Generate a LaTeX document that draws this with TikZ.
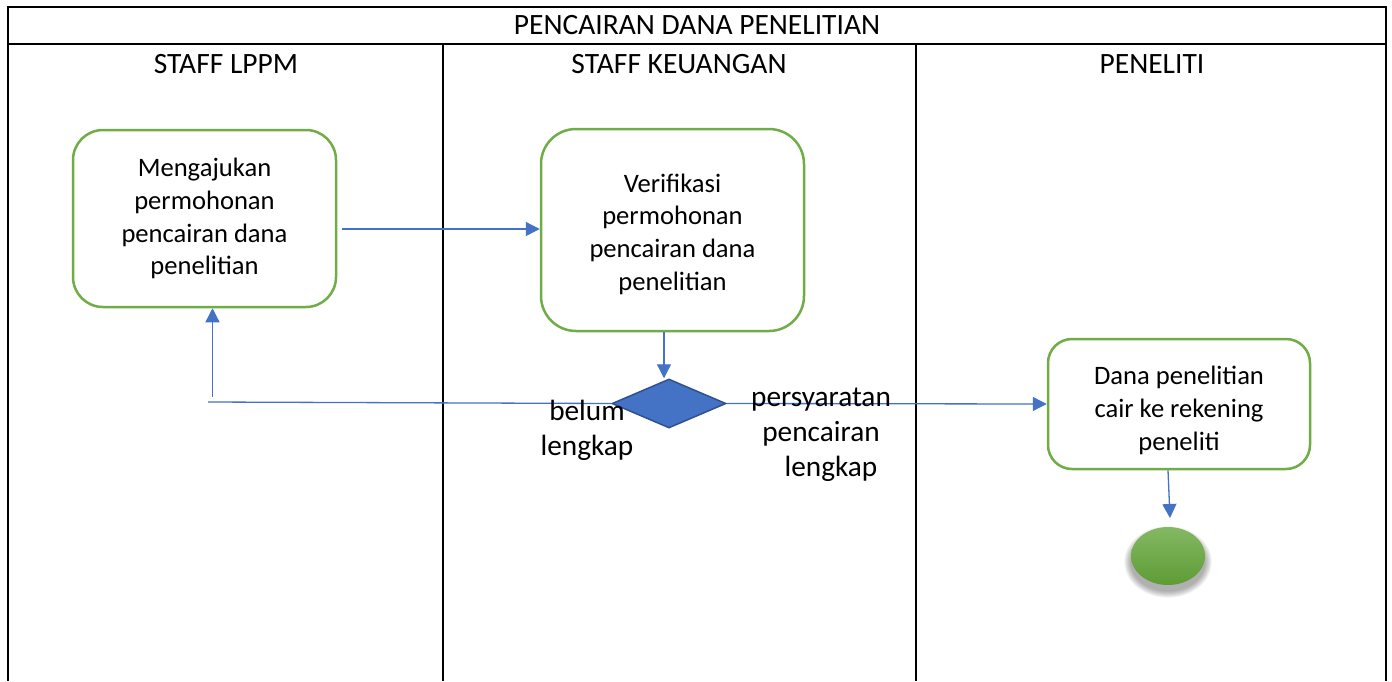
\documentclass[tikz,border=0pt]{standalone}
\usepackage{fontspec}
\setmainfont{Carlito}
\usetikzlibrary{arrows.meta,shapes.geometric}
\definecolor{boxgreen}{HTML}{70AD47}
\definecolor{flowblue}{HTML}{4472C4}
\definecolor{flowblueDark}{HTML}{2F528F}
\definecolor{endTop}{HTML}{84B862}
\definecolor{endBottom}{HTML}{5E9B35}
\tikzset{
  frame/.style={draw=black, line width=2pt},
  lanetitle/.style={font=\fontsize{29.5}{32}\selectfont, inner sep=0pt},
  activity/.style={draw=boxgreen, line width=2.5pt, fill=white, rounded corners=30pt,
    align=center, font=\fontsize{26.6}{32.8}\selectfont, inner sep=0pt},
  decision/.style={diamond, draw=flowblueDark, line width=1.5pt, fill=flowblue, inner sep=0pt,
    minimum width=114pt, minimum height=49pt, aspect=2.3},
  flow/.style={draw=flowblue, line width=1.3pt, -{Triangle[length=14pt,width=14pt]}},
  flowplain/.style={draw=flowblue, line width=1.3pt},
  guard/.style={align=center, font=\fontsize{29.3}{35}\selectfont, inner sep=0pt},
  finalnode/.style={ellipse, minimum width=74pt, minimum height=58pt, inner sep=0pt,
    top color=endTop, bottom color=endBottom, draw=none}
}
\begin{document}
\begin{tikzpicture}[x=1pt,y=-1pt]
  \useasboundingbox (0,0) rectangle (1392,681);
  \fill[white] (0,0) rectangle (1392,681);

  % swimlane frame
  \draw[frame] (8,681) -- (8,7) -- (1386,7) -- (1386,681);
  \draw[frame] (8,44) -- (1386,44);
  \draw[frame] (443,44) -- (443,681);
  \draw[frame] (916,44) -- (916,681);

  \node[lanetitle] (title) at (697,25) {PENCAIRAN DANA PENELITIAN};
  \node[lanetitle] (laneA) at (226,64) {STAFF LPPM};
  \node[lanetitle] (laneB) at (679,64) {STAFF KEUANGAN};
  \node[lanetitle] (laneC) at (1152,64) {PENELITI};

  % activities
  \node[activity, minimum width=263pt, minimum height=177pt] (ajukan) at (204.5,218.5)
    {Mengajukan\\permohonan\\pencairan dana\\penelitian};
  \node[activity, minimum width=263pt, minimum height=202pt, rounded corners=35pt] (verif) at (672.5,230)
    {\rule{0pt}{0pt}\\[-5.8pt]Verifikasi\\permohonan\\pencairan dana\\penelitian};
  \node[activity, minimum width=262pt, minimum height=130pt, rounded corners=24pt] (cair) at (1179,404)
    {\rule{0pt}{0pt}\\[-1pt]Dana penelitian\\cair ke rekening\\peneliti};

  \node[decision] (cek) at (669,403.5) {};

  % soft shadow under the final state
  \foreach \g in {0,1,...,7}{
    \fill[black, opacity=0.045] (1168,562) ellipse ({37.5+0.9*\g pt} and {29.5+0.9*\g pt});
  }
  \node[finalnode] (selesai) at (1168,556) {};

  % connectors
  \coordinate (ajukanOut) at (342,229);
  \draw[flow] (ajukanOut) -- (verif.west |- ajukanOut);
  \draw[flow] (verif.south -| 664,0) -- (cek.north -| 664,0);
  \draw[flow] (cek.east) -- (cair.west);
  \coordinate (balikKiri) at (208,402);
  \coordinate (balikNaik) at (212.5,397);
  \draw[flowplain] (cek.west) -- (balikKiri);
  \draw[flow] (balikNaik) -- (ajukan.south -| balikNaik);
  \draw[flow] (cair.south -| 1168,0) -- (1170,518);

  % guard labels
  \node[guard] (belum) at (587,430) {belum\\lengkap};
  \node[guard] (lengkap) at (821,435) {persyaratan\\pencairan\\\hspace*{20pt}lengkap};
\end{tikzpicture}
\end{document}
